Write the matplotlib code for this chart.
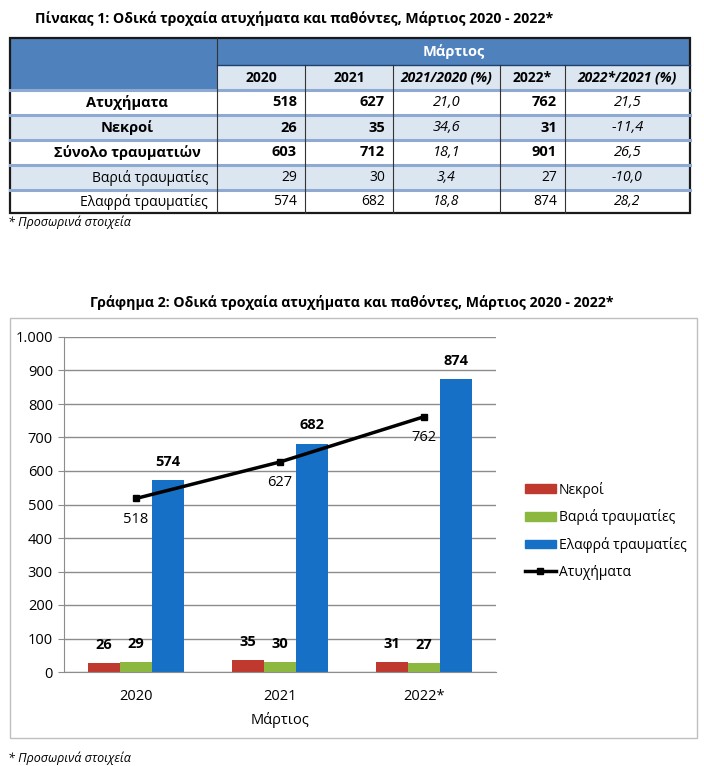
import numpy as np
import matplotlib
matplotlib.use('Agg')
import matplotlib.pyplot as plt
from matplotlib.patches import Rectangle
from matplotlib.lines import Line2D
from matplotlib.patches import Patch
from matplotlib.ticker import FuncFormatter

plt.rcParams['font.family'] = ['Open Sans', 'DejaVu Sans']

# ---- data
years = ['2020', '2021', '2022*']
atyximata = [518, 627, 762]
nekroi = [26, 35, 31]
synolo = [603, 712, 901]
baria = [29, 30, 27]
elafra = [574, 682, 874]
pct_21_20 = ['21,0', '34,6', '18,1', '3,4', '18,8']
pct_22_21 = ['21,5', '-11,4', '26,5', '-10,0', '28,2']
row_names = ['Ατυχήματα', 'Νεκροί', 'Σύνολο τραυματιών', 'Βαριά τραυματίες', 'Ελαφρά τραυματίες']
col_names = ['2020', '2021', '2021/2020 (%)', '2022*', '2022*/2021 (%)']

RED = '#C0392F'
GREEN = '#8DB83F'
BLUE = '#1570C6'
HEAD = '#4F81BD'
LIGHT = '#DCE6F1'

fig = plt.figure(figsize=(7.04, 7.66), dpi=100)

# background axes in pixel coords for the table, titles, frame
bg = fig.add_axes([0, 0, 1, 1], zorder=0)
bg.set_xlim(0, 704)
bg.set_ylim(766, 0)
bg.axis('off')

bg.text(35, 19, 'Πίνακας 1: Οδικά τροχαία ατυχήματα και παθόντες, Μάρτιος 2020 - 2022*',
        fontsize=10.2, fontweight='bold', va='center', ha='left')

cx = [10, 217, 305, 393, 500, 565, 690]
ry = [38, 65, 90, 115, 140, 165, 190, 213]

# header
bg.add_patch(Rectangle((cx[0], ry[0]), cx[-1]-cx[0], ry[2]-ry[0], color=HEAD, lw=0))
bg.add_patch(Rectangle((cx[1], ry[1]), cx[-1]-cx[1], ry[2]-ry[1], color=LIGHT, lw=0))
bg.text((cx[1]+cx[-1])/2, (ry[0]+ry[1])/2, 'Μάρτιος', color='white', fontsize=10.5,
        fontweight='bold', ha='center', va='center')
for j, name in enumerate(col_names):
    bg.text((cx[j+1]+cx[j+2])/2, (ry[1]+ry[2])/2, name, fontsize=10, fontweight='bold',
            style='italic' if '%' in name else 'normal', ha='center', va='center')

# body
vals = [atyximata, nekroi, synolo, baria, elafra]
for i in range(5):
    y0, y1 = ry[i+2], ry[i+3]
    ym = (y0+y1)/2
    if i % 2 == 1:
        bg.add_patch(Rectangle((cx[0], y0), cx[-1]-cx[0], y1-y0, color=LIGHT, lw=0))
    bold = i < 3
    fw = 'bold' if bold else 'normal'
    if bold:
        bg.text(127, ym, row_names[i], fontsize=10.5, fontweight=fw, ha='center', va='center')
    else:
        bg.text(208, ym, row_names[i], fontsize=10, ha='right', va='center')
    fs = 10.5 if bold else 10
    bg.text(cx[2]-8, ym, str(vals[i][0]), fontsize=fs, fontweight=fw, ha='right', va='center')
    bg.text(cx[3]-8, ym, str(vals[i][1]), fontsize=fs, fontweight=fw, ha='right', va='center')
    bg.text((cx[3]+cx[4])/2, ym, pct_21_20[i], fontsize=fs, style='italic', ha='center', va='center')
    bg.text(cx[5]-8, ym, str(vals[i][2]), fontsize=fs, fontweight=fw, ha='right', va='center')
    bg.text((cx[5]+cx[6])/2, ym, pct_22_21[i], fontsize=fs, style='italic', ha='center', va='center')

# grid lines of table
bg.plot([cx[1], cx[-1]], [ry[1], ry[1]], color='#1F3F6F', lw=1)
for y in ry[2:-1]:
    bg.plot([cx[0], cx[-1]], [y, y], color='#8EAAD0', lw=2.2)
for x in cx[1:-1]:
    top = ry[0] if x == cx[1] else ry[1]
    bg.plot([x, x], [top, ry[-1]], color='#333333', lw=0.8)
bg.add_patch(Rectangle((cx[0], ry[0]), cx[-1]-cx[0], ry[-1]-ry[0], fill=False,
                       ec='#1a1a1a', lw=1.6))

bg.text(8, 222, '* Προσωρινά στοιχεία', fontsize=9, style='italic', va='center', ha='left')

# chart title and frame
bg.text(352, 302, 'Γράφημα 2: Οδικά τροχαία ατυχήματα και παθόντες, Μάρτιος 2020 - 2022*',
        fontsize=10.2, fontweight='bold', ha='center', va='center')
bg.add_patch(Rectangle((10, 318), 687, 420, fill=False, ec='#BFBFBF', lw=1))
bg.text(8, 758, '* Προσωρινά στοιχεία', fontsize=9, style='italic', va='center', ha='left')

# ---- chart
ax = fig.add_axes([64/704, 1-672/766, 432/704, 335/766], zorder=1)
ax.patch.set_alpha(0)
x = np.arange(len(years))
w = 0.222
b1 = ax.bar(x-w, nekroi, w, color=RED, zorder=2)
b2 = ax.bar(x, baria, w, color=GREEN, zorder=2)
b3 = ax.bar(x+w, elafra, w, color=BLUE, zorder=2)
ax.plot(x, atyximata, color='black', lw=2.5, marker='s', ms=5, zorder=3)

for bars in (b1, b2, b3):
    ax.bar_label(bars, padding=8, fontsize=10.5, fontweight='bold')
for xi, v in zip(x, atyximata):
    ax.annotate(str(v), (xi, v), xytext=(0, -15), textcoords='offset points',
                ha='center', va='center', fontsize=10.5)

ax.set_xlim(-0.5, 2.5)
ax.set_ylim(0, 1000)
ax.set_yticks(range(0, 1001, 100))
ax.yaxis.set_major_formatter(FuncFormatter(lambda v, p: f'{int(v):,}'.replace(',', '.')))
ax.set_xticks(x)
ax.set_xticklabels(years)
ax.tick_params(axis='x', length=0, labelsize=10.5, pad=12)
ax.tick_params(axis='y', length=4, color='#8c8c8c', labelsize=10.5, pad=4)
ax.yaxis.grid(True, color='#8c8c8c', lw=1)
ax.set_axisbelow(True)
for s in ('top', 'right'):
    ax.spines[s].set_visible(False)
ax.spines['left'].set_color('#8c8c8c')
ax.spines['bottom'].set_color('#8c8c8c')
ax.set_xlabel('Μάρτιος', fontsize=10.5, labelpad=6)

handles = [Patch(color=RED), Patch(color=GREEN), Patch(color=BLUE),
           Line2D([], [], color='black', lw=2.5, marker='s', ms=4)]
labels = ['Νεκροί', 'Βαριά τραυματίες', 'Ελαφρά τραυματίες', 'Ατυχήματα']
fig.legend(handles, labels, loc='upper left', bbox_to_anchor=(512/704, 1-469/766),
           frameon=False, fontsize=10, handlelength=2.3, handleheight=0.55,
           handletextpad=0.15, labelspacing=0.85)

fig.savefig('out.png', dpi=100)
